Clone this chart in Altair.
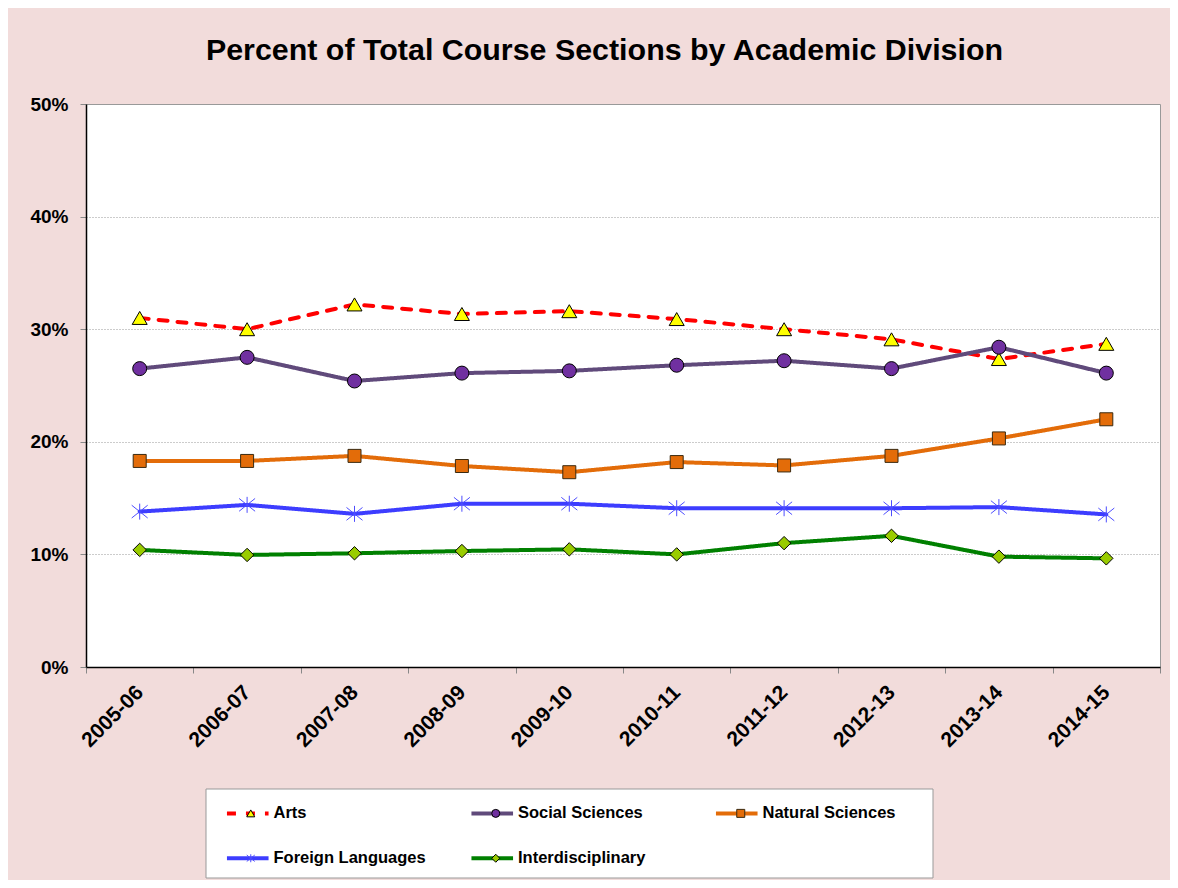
import altair as alt
import pandas as pd

years = ["2005-06", "2006-07", "2007-08", "2008-09", "2009-10",
         "2010-11", "2011-12", "2012-13", "2013-14", "2014-15"]
series_names = ["Arts", "Social Sciences", "Natural Sciences",
                "Foreign Languages", "Interdisciplinary"]

arts = [31.0, 30.0, 32.2, 31.35, 31.6, 30.9, 30.0, 29.1, 27.35, 28.7]
social = [26.5, 27.5, 25.4, 26.1, 26.3, 26.8, 27.2, 26.5, 28.4, 26.1]
natural = [18.3, 18.3, 18.75, 17.85, 17.3, 18.2, 17.9, 18.75, 20.3, 22.0]
foreign = [13.8, 14.4, 13.6, 14.5, 14.5, 14.1, 14.1, 14.1, 14.2, 13.55]
inter = [10.4, 9.95, 10.1, 10.3, 10.45, 10.0, 11.0, 11.65, 9.8, 9.65]

series_values = {
    "Arts": arts,
    "Social Sciences": social,
    "Natural Sciences": natural,
    "Foreign Languages": foreign,
    "Interdisciplinary": inter,
}

line_colors = ["#FF0000", "#604A7B", "#E36C09", "#3D3DFF", "#008000"]
dashes = [[9, 10], [1, 0], [1, 0], [1, 0], [1, 0]]
marker_fill = ["#FFFF00", "#7030A0", "#E36C09", "transparent", "#99CC00"]
marker_stroke = ["#000000", "#000000", "#3A2A10", "#4D4DFF", "#000000"]
asterisk = "M0,-1L0,1M-1,-0.8L1,0.8M-1,0.8L1,-0.8"
shapes = ["triangle-up", "circle", "square", asterisk, "diamond"]
marker_sizes = [225, 196, 169, 256, 180]

# marker keys: distinct from the line keys so the two legends stay separate
marker_keys = ["m_" + s for s in series_names]

rows = []
for s, mk, ms in zip(series_names, marker_keys, marker_sizes):
    for yr, v in zip(years, series_values[s]):
        rows.append({"year": yr, "value": v, "series": s, "marker": mk, "msize": ms})
df = pd.DataFrame(rows)

FONT = "Liberation Sans"
W, H = 1074, 563

x_enc = alt.X(
    "year:N", sort=years, bandPosition=0.5,
    scale=alt.Scale(type="band", paddingInner=0, paddingOuter=0),
    axis=alt.Axis(
        title=None, labelAngle=-45, labelAlign="right", labelBaseline="middle",
        labelFont=FONT, labelFontSize=21, labelFontWeight="bold", labelColor="#000",
        labelPadding=16, tickBand="extent", tickColor="#888", tickSize=6,
        domainColor="#000", domainWidth=1.5, grid=False,
    ),
)
y_enc = alt.Y(
    "value:Q",
    scale=alt.Scale(domain=[0, 50], nice=False),
    axis=alt.Axis(
        title=None, values=[0, 10, 20, 30, 40, 50], labelExpr="datum.value + '%'",
        labelFont=FONT, labelFontSize=19, labelFontWeight="bold", labelColor="#000",
        labelPadding=12, tickColor="#888", tickSize=6,
        domainColor="#000", domainWidth=1.5,
        grid=True, gridColor="#999", gridDash=[1, 2], gridWidth=1,
    ),
)

legend_common = dict(
    orient="none", title=None, direction="horizontal", columns=3, gridAlign="all",
    labelFont=FONT, labelFontSize=16.5, labelFontWeight="bold", labelColor="#000",
    symbolSize=64, padding=0,
)

line_legend = alt.Legend(
    symbolType="M-5.2,0L5.2,0", symbolStrokeWidth=4,
    labelOffset=17.5, columnPadding=36.5, rowPadding=28,
    legendX=153.5, legendY=701, **legend_common
)
marker_legend = alt.Legend(
    symbolStrokeWidth=1, labelExpr="''", labelOffset=0,
    columnPadding=228, rowPadding=28,
    legendX=156.5, legendY=701, **legend_common
)

legend_box = alt.Chart(pd.DataFrame({"k": [0]})).mark_rect(
    fill="white", stroke="#999", strokeWidth=1
).encode(
    x=alt.value(120), x2=alt.value(847), y=alt.value(685), y2=alt.value(774)
)

lines = alt.Chart(df).mark_line(strokeWidth=4, strokeCap="round").encode(
    x=x_enc,
    y=y_enc,
    color=alt.Color(
        "series:N", sort=series_names,
        scale=alt.Scale(domain=series_names, range=line_colors),
        legend=line_legend,
    ),
    strokeDash=alt.StrokeDash(
        "series:N", sort=series_names,
        scale=alt.Scale(domain=series_names, range=dashes),
        legend=line_legend,
    ),
)

points = alt.Chart(df).mark_point(filled=True, opacity=1, strokeWidth=1).encode(
    x=x_enc,
    y=y_enc,
    shape=alt.Shape(
        "marker:N", sort=marker_keys,
        scale=alt.Scale(domain=marker_keys, range=shapes),
        legend=marker_legend,
    ),
    fill=alt.Fill(
        "marker:N", sort=marker_keys,
        scale=alt.Scale(domain=marker_keys, range=marker_fill),
        legend=marker_legend,
    ),
    stroke=alt.Stroke(
        "marker:N", sort=marker_keys,
        scale=alt.Scale(domain=marker_keys, range=marker_stroke),
        legend=marker_legend,
    ),
    size=alt.Size("msize:Q", scale=None),
)

chart = alt.layer(legend_box, lines, points).properties(
    width=W, height=H,
    autosize=alt.AutoSizeParams(type="none"),
    padding={"left": 78, "top": 96, "right": 10, "bottom": 213},
    background="#F2DCDB",
    title=alt.TitleParams(
        "Percent of Total Course Sections by Academic Division",
        font=FONT, fontSize=30.4, fontWeight="bold", color="#000",
        anchor="middle", dx=-18.5, offset=29,
    ),
).configure_view(
    fill="white", stroke="#999", strokeWidth=1
)

chart.save("out.html", embed_options={"renderer": "svg", "actions": False})
